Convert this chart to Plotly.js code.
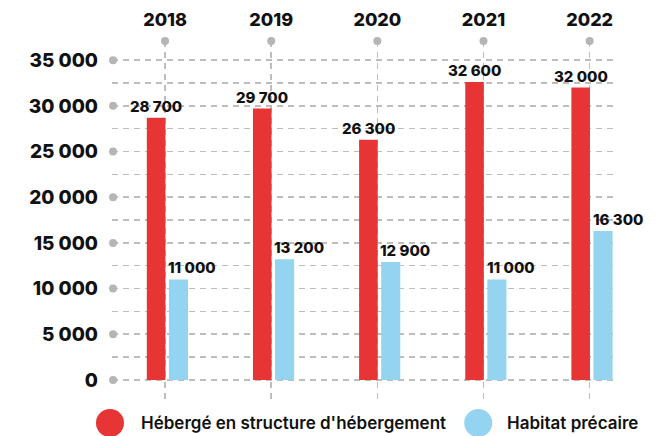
<!DOCTYPE html>
<html>
<head>
<meta charset="utf-8">
<script src="https://cdn.plot.ly/plotly-3.0.1.min.js"></script>
<style>html,body{margin:0;padding:0;background:#fff;}#chart{width:667px;height:436px;}</style>
</head>
<body>
<div id="chart"></div>
<script>
// ---- data ----
var years = ["2018", "2019", "2020", "2021", "2022"];
var seriesNames = ["Hébergé en structure d'hébergement", "Habitat précaire"];
var hebergeValues = [28700, 29700, 26300, 32600, 32000];
var precaireValues = [11000, 13200, 12900, 11000, 16300];
var yTickVals = [0, 5000, 10000, 15000, 20000, 25000, 30000, 35000];
var yTickText = ["0", "5 000", "10 000", "15 000", "20 000", "25 000", "30 000", "35 000"];

// ---- style ----
var RED = "#E73434";
var BLUE = "#94D4F1";
var GRID = "#BDBDBD";
var DOT = "#B5B5B5";
var FONT = "Inter, 'Open Sans', sans-serif";
var Y_TOP = 37100, Y_BOTTOM = -2200, X_LEFT = -0.5, X_RIGHT = 4.22;

function fmt(v) { return String(v).replace(/\B(?=(\d{3})+(?!\d))/g, " "); }
var xIdx = years.map(function (_, i) { return i; });

var traces = [
  {
    type: "bar", name: seriesNames[0], x: xIdx, y: hebergeValues,
    marker: { color: RED }, offset: -0.172, width: 0.175,
    showlegend: false, hoverinfo: "skip"
  },
  {
    type: "bar", name: seriesNames[1], x: xIdx, y: precaireValues,
    marker: { color: BLUE }, offset: 0.036, width: 0.18,
    showlegend: false, hoverinfo: "skip"
  },
  // decorative dots at the top of each year gridline
  {
    type: "scatter", mode: "markers", x: xIdx, y: years.map(function () { return Y_TOP; }),
    marker: { color: DOT, size: 8 }, cliponaxis: false, showlegend: false, hoverinfo: "skip"
  },
  // decorative dots at left of each major horizontal gridline
  {
    type: "scatter", mode: "markers", x: yTickVals.map(function () { return X_LEFT + 0.01; }), y: yTickVals,
    marker: { color: DOT, size: 8 }, cliponaxis: false, showlegend: false, hoverinfo: "skip"
  }
];

var annotations = [];
years.forEach(function (yr, i) {
  annotations.push({
    x: i, y: hebergeValues[i], xref: "x", yref: "y", text: fmt(hebergeValues[i]),
    showarrow: false, xanchor: "center", yanchor: "bottom", xshift: -9, yshift: 0,
    font: { family: FONT, size: 15, color: "#111", weight: 800 }
  });
  annotations.push({
    x: i, y: precaireValues[i], xref: "x", yref: "y", text: fmt(precaireValues[i]),
    showarrow: false, xanchor: "left", yanchor: "bottom", xshift: 1, yshift: 0,
    font: { family: FONT, size: 15, color: "#111", weight: 800 }
  });
});

// custom legend with large circles
var legendY = -0.064;
var legendItems = [
  { color: RED, name: seriesNames[0], cx: -0.004, tx: 0.054 },
  { color: BLUE, name: seriesNames[1], cx: 0.731, tx: 0.784 }
];
var shapes = [];
legendItems.forEach(function (it) {
  shapes.push({
    type: "circle", xref: "paper", yref: "paper", xsizemode: "pixel", ysizemode: "pixel",
    xanchor: it.cx, yanchor: legendY, x0: -14, x1: 14, y0: -14, y1: 14,
    fillcolor: it.color, line: { width: 0 }
  });
  annotations.push({
    x: it.tx, y: legendY, xref: "paper", yref: "paper", text: it.name, showarrow: false,
    xanchor: "left", yanchor: "middle",
    font: { family: FONT, size: 17, color: "#111", weight: 600 }
  });
});

var layout = {
  width: 667, height: 436,
  margin: { l: 112, r: 54, t: 41, b: 36 },
  paper_bgcolor: "#fff", plot_bgcolor: "#fff",
  barmode: "overlay",
  showlegend: false,
  xaxis: {
    type: "linear", range: [X_LEFT, X_RIGHT], side: "top",
    tickmode: "array", tickvals: xIdx, ticktext: years,
    showgrid: true, gridcolor: GRID, gridwidth: 1.5, griddash: "6px,5px",
    zeroline: false, showline: false, ticks: "", ticklabelstandoff: 10,
    tickfont: { family: FONT, size: 18, color: "#111", weight: 800 },
    fixedrange: true
  },
  yaxis: {
    range: [Y_BOTTOM, Y_TOP],
    tickmode: "array", tickvals: yTickVals, ticktext: yTickText,
    showgrid: true, gridcolor: GRID, gridwidth: 1.5, griddash: "6px,5px",
    minor: { dtick: 2500, tick0: 0, showgrid: true, gridcolor: GRID, gridwidth: 1.5, griddash: "6px,5px", ticks: "" },
    zeroline: false, showline: false, ticks: "", ticklabelstandoff: 13,
    tickfont: { family: FONT, size: 19, color: "#111", weight: 800 },
    fixedrange: true
  },
  annotations: annotations,
  shapes: shapes
};

Plotly.newPlot("chart", traces, layout, { displayModeBar: false, staticPlot: true });
</script>
</body>
</html>
